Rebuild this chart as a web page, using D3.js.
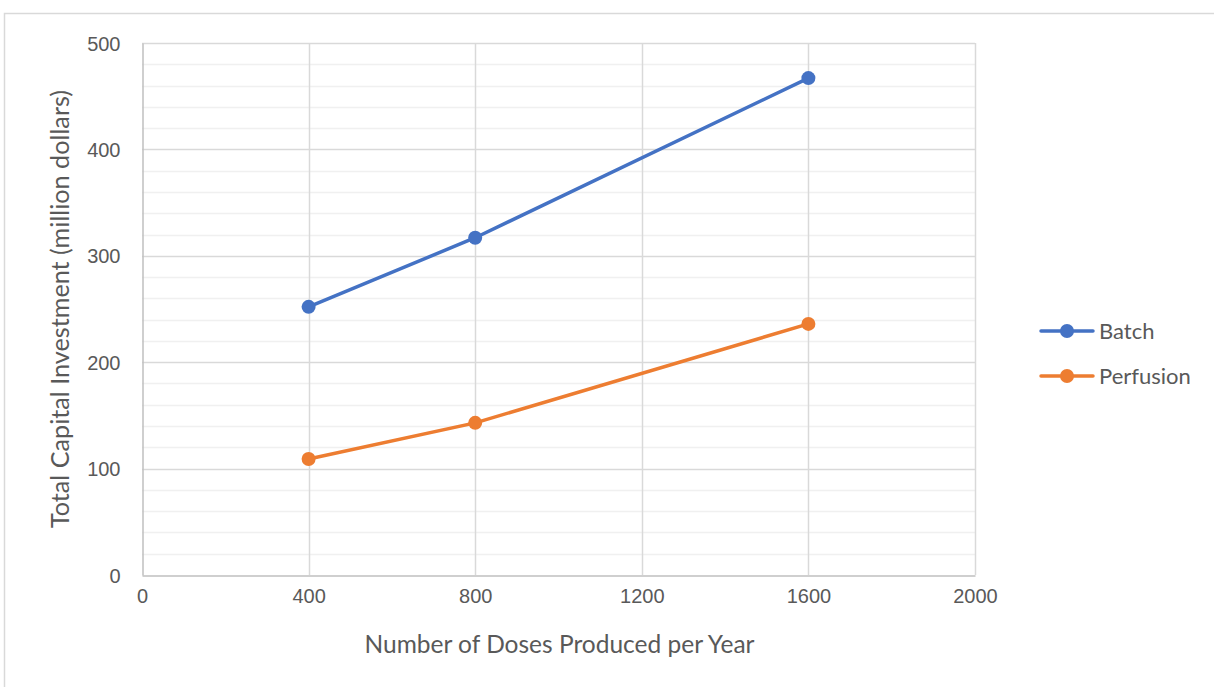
<!DOCTYPE html>
<html>
<head>
<meta charset="utf-8">
<script src="https://cdn.jsdelivr.net/npm/d3@7"></script>
<style>
  html, body { margin: 0; padding: 0; background: #fff; }
  svg { display: block; font-family: Lato, "Open Sans", sans-serif; }
</style>
</head>
<body>
<svg id="chart" width="1214" height="687"></svg>
<script>
// Capital investment by production scale
const doses = [400, 800, 1600];
const batch = [252, 317, 467];
const perfusion = [109, 143, 236];
const seriesNames = ["Batch", "Perfusion"];
const seriesColors = ["#4472C4", "#ED7D31"];
const xTicks = [0, 400, 800, 1200, 1600, 2000];
const yTicks = [0, 100, 200, 300, 400, 500];

const svg = d3.select("#chart");
const W = 1214, H = 687;
const plot = { left: 142, right: 975, top: 43, bottom: 575 };

// outer chart frame
svg.append("rect")
  .attr("x", 4.5).attr("y", 13.5)
  .attr("width", W + 10).attr("height", H + 10)
  .attr("fill", "#fff").attr("stroke", "#d9d9d9").attr("stroke-width", 1.5);

const x = d3.scaleLinear().domain([0, 2000]).range([plot.left, plot.right]);
const y = d3.scaleLinear().domain([0, 500]).range([plot.bottom, plot.top]);

// minor horizontal grid
const minor = d3.range(20, 500, 20).filter(v => v % 100 !== 0);
svg.append("g").selectAll("line").data(minor).join("line")
  .attr("x1", plot.left).attr("x2", plot.right)
  .attr("y1", d => Math.round(y(d)) + 0.5).attr("y2", d => Math.round(y(d)) + 0.5)
  .attr("stroke", "#f0f0f0").attr("stroke-width", 1.5);

// major horizontal grid
svg.append("g").selectAll("line").data(yTicks.filter(v => v > 0)).join("line")
  .attr("x1", plot.left).attr("x2", plot.right)
  .attr("y1", d => Math.round(y(d)) + 0.5).attr("y2", d => Math.round(y(d)) + 0.5)
  .attr("stroke", "#d9d9d9").attr("stroke-width", 1.5);

// vertical grid
svg.append("g").selectAll("line").data(xTicks.filter(v => v > 0)).join("line")
  .attr("x1", d => Math.round(x(d)) + 0.5).attr("x2", d => Math.round(x(d)) + 0.5)
  .attr("y1", plot.top).attr("y2", plot.bottom)
  .attr("stroke", "#d9d9d9").attr("stroke-width", 1.5);

// axes
const xAxis = d3.axisBottom(x).tickValues(xTicks).tickSize(0).tickPadding(13).tickFormat(d3.format("d"));
const yAxis = d3.axisLeft(y).tickValues(yTicks).tickSize(0).tickPadding(22).tickFormat(d3.format("d"));

const gx = svg.append("g").attr("transform", `translate(0,${plot.bottom + 0.5})`).call(xAxis);
const gy = svg.append("g").attr("transform", `translate(${plot.left + 0.5},0)`).call(yAxis);
[gx, gy].forEach(g => {
  g.select(".domain").attr("stroke", "#bfbfbf").attr("stroke-width", 1.5);
  g.selectAll("text").attr("fill", "#595959").style("font-size", "20px");
});
gy.selectAll("text").attr("dy", "0.35em");

// axis titles
svg.append("text")
  .attr("x", (plot.left + plot.right) / 2 + 1).attr("y", 653)
  .attr("text-anchor", "middle").attr("fill", "#595959").style("font-size", "24.5px")
  .text("Number of Doses Produced per Year");
svg.append("text")
  .attr("transform", `translate(69,${(plot.top + plot.bottom) / 2}) rotate(-90)`)
  .attr("text-anchor", "middle").attr("fill", "#595959").style("font-size", "25.2px")
  .text("Total Capital Investment (million dollars)");

// series
const series = [batch, perfusion];
const line = d3.line().x((d, i) => x(doses[i])).y(d => y(d));
series.forEach((vals, s) => {
  const g = svg.append("g");
  g.append("path").datum(vals).attr("d", line)
    .attr("fill", "none").attr("stroke", seriesColors[s]).attr("stroke-width", 3.5)
    .attr("stroke-linecap", "round");
  g.selectAll("circle").data(vals).join("circle")
    .attr("cx", (d, i) => x(doses[i])).attr("cy", d => y(d)).attr("r", 7)
    .attr("fill", seriesColors[s]);
});

// legend
const legendY = [331, 376];
seriesNames.forEach((name, s) => {
  const g = svg.append("g").attr("transform", `translate(1041,${legendY[s]})`);
  g.append("line").attr("x1", 0).attr("x2", 52).attr("y1", 0).attr("y2", 0)
    .attr("stroke", seriesColors[s]).attr("stroke-width", 3.5).attr("stroke-linecap", "round");
  g.append("circle").attr("cx", 26).attr("cy", 0).attr("r", 7).attr("fill", seriesColors[s]);
  g.append("text").attr("x", 58).attr("y", 0).attr("dy", "0.35em")
    .attr("fill", "#595959").style("font-size", "22px").text(name);
});
</script>
</body>
</html>
